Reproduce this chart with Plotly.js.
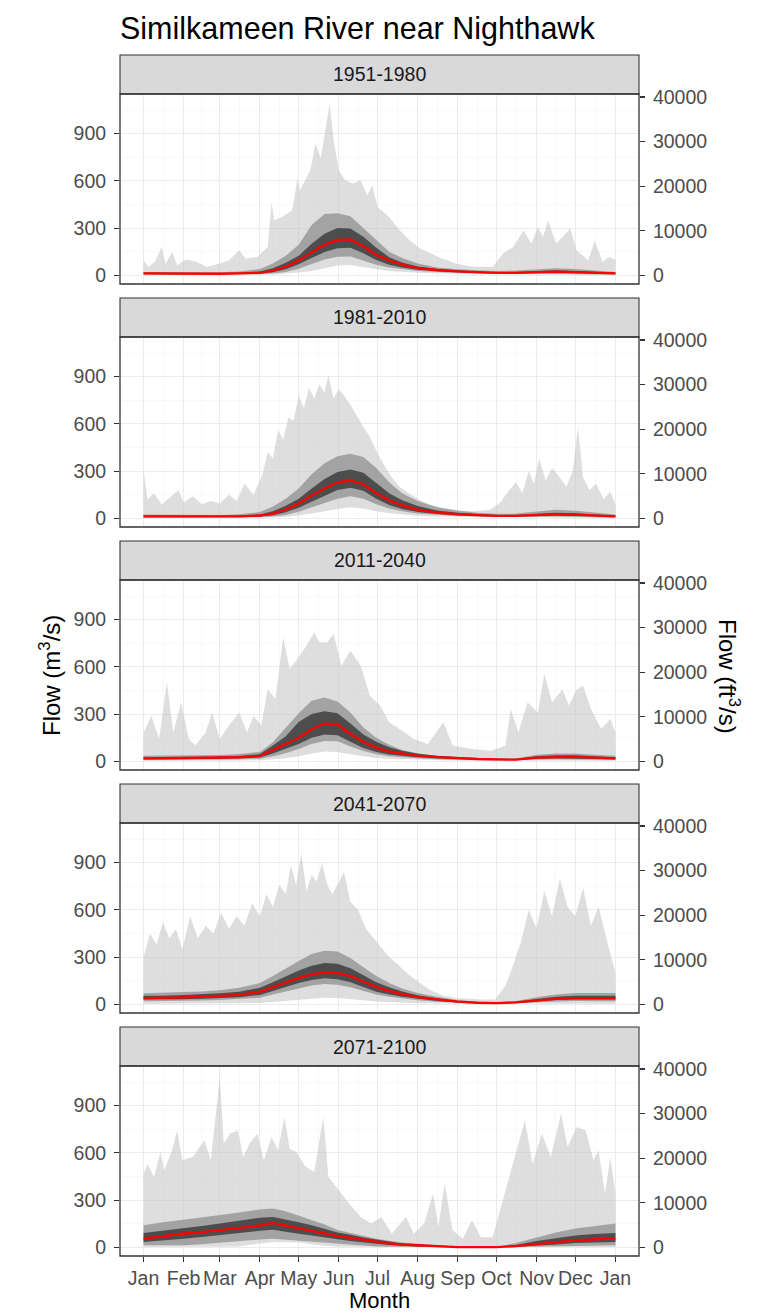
<!DOCTYPE html>
<html><head><meta charset="utf-8">
<script src="https://cdn.plot.ly/plotly-3.0.1.min.js"></script>
<style>html,body{margin:0;padding:0;background:#fff}#chart{width:764px;height:1315px}</style>
</head><body><div id="chart"></div>
<script>
// ---------------- DATA ----------------
const periods = ['1951-1980', '1981-2010', '2011-2040', '2041-2070', '2071-2100'];
const monthStarts = [0, 31, 59, 90, 120, 151, 181, 212, 243, 273, 304, 334, 365];
const monthLabels = ['Jan','Feb','Mar','Apr','May','Jun','Jul','Aug','Sep','Oct','Nov','Dec','Jan'];
const yTicksM3 = [0, 300, 600, 900];
const yMinorM3 = [150, 450, 750, 1050];
const yTicksFt3 = [0, 10000, 20000, 30000, 40000];
const FT3_PER_M3 = 35.3147;

// day-of-year sample points for the quantile bands
const qDays = [0,15,31,45,59,74,90,100,110,120,130,140,150,160,170,180,190,200,212,227,243,258,273,288,304,319,334,349,365];

// 1951-1980
const min_1 = [2,2,2,2,2,3,4,6,10,18,28,45,62,65,52,38,28,22,16,11,8,6,5,5,5,5,4,3,2];
const p10_1 = [6,5,5,5,5,6,8,12,22,42,72,100,118,120,95,68,50,40,28,20,15,11,9,9,10,11,10,8,6];
const p25_1 = [9,8,7,7,7,9,12,20,38,70,110,148,172,175,140,98,68,50,36,26,20,15,12,12,15,17,16,12,9];
const med_1 = [12,11,10,10,10,12,16,30,55,95,145,195,225,228,185,130,95,68,48,34,25,20,16,16,20,23,21,16,12];
const p75_1 = [16,15,13,13,13,16,24,45,80,125,200,265,300,298,245,175,115,82,56,40,31,25,20,21,27,32,28,21,16];
const p90_1 = [22,20,18,18,19,24,40,75,125,195,320,390,395,375,300,225,150,110,76,50,38,32,28,30,40,45,40,30,22];
const maxDays_1 = [0,4,9,14,17,22,26,33,41,49,58,66,74,79,88,96,99,101,107,115,119,121,129,133,137,140,144,147,151,156,162,168,173,177,181,190,198,206,214,228,242,256,270,278,286,294,300,305,309,313,319,324,330,335,344,349,355,360,365];
const max_1 = [95,53,90,180,74,148,64,100,85,53,74,95,159,106,117,180,466,350,371,413,614,540,667,837,742,900,1091,858,667,604,583,604,508,572,434,371,286,222,170,117,74,53,53,138,180,286,201,307,244,350,201,244,297,159,95,222,85,117,100];

// 1981-2010
const min_2 = [2,2,2,2,2,3,4,6,10,18,30,45,60,70,62,45,32,24,17,12,8,6,5,5,5,5,4,3,2];
const p10_2 = [6,5,5,5,5,6,8,12,22,42,70,98,125,140,125,90,62,45,30,21,15,11,9,9,10,12,11,8,6];
const p25_2 = [9,8,8,8,8,9,12,20,38,68,105,145,180,195,175,125,85,60,40,27,20,15,12,12,15,19,17,12,9];
const med_2 = [13,12,11,11,11,13,18,30,55,95,145,190,228,242,215,160,115,82,55,36,26,20,16,16,20,26,24,17,13];
const p75_2 = [17,16,15,15,15,17,25,45,80,125,190,250,295,310,290,225,160,115,78,50,35,27,21,21,27,35,32,23,17];
const p90_2 = [25,23,21,21,22,26,40,75,125,190,280,350,395,410,390,320,230,160,110,70,48,36,29,30,42,55,48,35,25];
const maxDays_2 = [0,3,8,14,20,27,31,38,45,52,59,66,72,78,85,92,96,100,104,108,112,116,120,124,128,132,136,140,143,147,151,155,160,165,170,175,180,186,192,198,205,213,222,232,244,256,268,276,282,288,293,298,302,306,311,316,322,327,332,336,340,345,350,356,361,365];
const max_2 = [300,120,160,90,130,180,100,140,90,110,95,150,110,220,150,280,420,380,560,500,640,620,780,700,830,760,850,800,910,760,820,780,720,650,580,520,430,340,260,200,160,120,85,65,50,45,55,100,170,230,160,300,220,380,240,320,260,200,300,580,260,180,220,120,170,90];

// 2011-2040
const min_3 = [3,3,3,3,4,5,7,12,20,32,50,62,60,45,32,22,16,12,9,7,5,4,3,3,5,6,6,5,3];
const p10_3 = [9,9,9,10,11,13,17,32,52,78,110,130,128,95,65,45,32,26,19,14,10,8,6,6,11,14,14,12,9];
const p25_3 = [14,14,14,15,16,19,25,50,78,110,150,170,165,125,85,60,43,35,26,19,14,11,9,8,16,20,20,17,14];
const med_3 = [19,20,20,21,22,26,34,72,107,150,204,240,235,174,125,87,62,50,36,27,20,15,12,11,24,28,28,24,19];
const p75_3 = [25,26,26,27,29,34,46,100,160,250,300,318,305,240,170,125,89,68,48,35,26,20,16,15,32,38,38,32,25];
const p90_3 = [35,36,36,38,40,46,60,121,215,305,385,405,380,310,215,150,105,72,52,34,26,21,18,18,42,50,50,42,35];
const maxDays_3 = [0,6,12,18,23,29,35,40,48,53,59,66,74,80,85,91,96,102,108,113,119,126,132,136,142,147,153,160,168,175,183,190,198,209,220,232,239,254,269,280,284,290,297,305,310,316,324,329,335,340,346,354,361,365];
const max_3 = [184,290,142,502,184,375,142,100,184,311,142,227,311,184,290,227,460,396,788,587,650,735,820,756,756,809,608,703,608,417,354,248,205,142,110,248,100,78,68,100,333,184,375,311,555,375,457,354,457,481,333,205,269,184];

// 2041-2070
const min_4 = [4,4,5,5,6,7,9,14,20,28,36,42,40,34,26,18,14,10,7,5,3,2,2,2,3,4,4,4,4];
const p10_4 = [20,20,22,24,27,32,42,62,82,102,120,130,125,108,85,62,48,37,26,16,8,5,3,5,12,18,21,21,20];
const p25_4 = [30,30,33,35,39,45,60,85,110,135,155,165,160,140,110,80,62,48,34,22,12,7,5,8,18,27,31,31,30];
const med_4 = [40,40,44,47,52,60,80,110,140,168,190,203,200,180,145,110,85,65,46,30,17,10,8,12,25,35,40,41,40];
const p75_4 = [55,55,60,64,70,80,105,140,180,215,245,262,258,230,185,140,108,82,58,38,22,13,10,16,34,48,55,56,55];
const p90_4 = [70,72,78,82,90,105,135,180,230,275,320,340,335,295,235,180,135,100,72,48,28,17,13,22,45,62,72,74,72];
const maxDays_4 = [0,5,10,15,20,25,30,36,42,48,54,60,66,72,78,84,90,95,100,105,110,114,118,122,126,130,134,138,142,146,150,155,160,166,172,178,184,190,197,205,213,222,232,242,252,262,272,280,286,292,298,304,310,316,322,328,334,340,346,352,358,365];
const max_4 = [300,450,380,520,420,480,350,560,420,500,450,580,480,560,500,640,560,700,620,760,700,880,760,960,720,820,780,900,760,700,760,840,650,600,480,420,360,300,250,190,140,90,55,40,35,30,30,120,250,400,600,480,720,560,800,620,560,740,500,620,420,200];

// 2071-2100
const min_5 = [2,2,2,3,4,5,25,32,33,30,20,10,6,4,3,2,2,1,1,1,1,0,0,1,1,1,2,2,2];
const p10_5 = [13,13,13,20,28,38,50,55,50,44,38,30,23,18,12,6,4,3,2,2,2,1,1,2,3,4,6,10,13];
const p25_5 = [34,45,55,65,76,90,105,112,100,87,75,62,52,40,30,23,15,10,6,3,1,0,0,3,10,18,28,31,34];
const med_5 = [55,70,88,97,108,123,140,155,138,120,103,88,72,60,48,35,25,18,13,6,2,1,1,8,22,33,44,50,55];
const p75_5 = [91,105,120,135,151,170,188,193,178,160,140,118,95,80,62,50,36,25,19,9,4,2,2,15,40,58,76,85,91];
const p90_5 = [140,160,176,190,203,222,240,246,230,203,175,145,110,92,75,55,42,30,23,12,3,2,2,28,65,95,119,135,151];
const maxDays_5 = [0,3,8,13,16,22,26,30,38,47,52,59,62,67,73,77,82,88,93,99,104,109,113,118,125,132,139,143,151,159,168,176,184,192,203,209,217,224,228,233,239,247,254,261,270,278,283,289,295,301,308,315,323,328,335,342,348,352,357,361,365];
const max_5 = [468,528,447,606,489,617,744,553,574,680,553,1083,659,723,744,574,659,723,553,701,617,828,627,606,515,479,828,447,362,278,193,151,193,87,193,87,151,341,130,405,108,55,172,64,64,299,447,617,807,528,723,574,850,638,765,744,553,617,341,574,341];

// ---------------- CHART ----------------
const panels = [
  {min:min_1,p10:p10_1,p25:p25_1,med:med_1,p75:p75_1,p90:p90_1,maxDays:maxDays_1,max:max_1},
  {min:min_2,p10:p10_2,p25:p25_2,med:med_2,p75:p75_2,p90:p90_2,maxDays:maxDays_2,max:max_2},
  {min:min_3,p10:p10_3,p25:p25_3,med:med_3,p75:p75_3,p90:p90_3,maxDays:maxDays_3,max:max_3},
  {min:min_4,p10:p10_4,p25:p25_4,med:med_4,p75:p75_4,p90:p90_4,maxDays:maxDays_4,max:max_4},
  {min:min_5,p10:p10_5,p25:p25_5,med:med_5,p75:p75_5,p90:p90_5,maxDays:maxDays_5,max:max_5}
];

const FONT = '"Liberation Sans", Arial, Helvetica, sans-serif';
const TICKFONT = {family: FONT, size: 19.5, color: '#4d4d4d'};
const W = 764, H = 1315, ML = 120, MR = 125, MT = 55, MB = 59;
const AREA_H = H - MT - MB, AREA_W = W - ML - MR;
const STEP = 243, STRIP_H = 39, PANEL_H = 190;
const py = px => 1 - (px - MT) / AREA_H;
const px2x = px => (px - ML) / AREA_W;

const xPad = 0.05 * 365;
const xRange = [-xPad, 365 + xPad];
const yRange = [-55, 1152];
const monthMids = monthStarts.slice(0, -1).map((d, i) => (d + monthStarts[i + 1]) / 2);
const rev = a => a.slice().reverse();

const traces = [];
const layout = {
  width: W, height: H,
  margin: {l: ML, r: MR, t: MT, b: MB},
  paper_bgcolor: '#ffffff', plot_bgcolor: '#ffffff',
  showlegend: false,
  font: {family: FONT, size: 19.5, color: '#4d4d4d'},
  title: {text: 'Similkameen River near Nighthawk', xref: 'container', yref: 'container',
          x: ML / W, xanchor: 'left', y: 1 - 28 / H, yanchor: 'middle',
          font: {family: FONT, size: 30.5, color: '#000000'}},
  shapes: [], annotations: []
};

panels.forEach((p, i) => {
  const k = i + 1;
  const xa = k === 1 ? 'x' : 'x' + k;
  const ya = k === 1 ? 'y' : 'y' + k;
  const yr = 'y' + (k + 5);
  const stripTop = MT + STEP * i;
  const plotTop = stripTop + STRIP_H;
  const plotBot = plotTop + PANEL_H;
  const isBottom = i === panels.length - 1;

  traces.push({type: 'scatter', mode: 'lines', xaxis: xa, yaxis: ya, hoverinfo: 'skip',
    x: p.maxDays.concat(rev(qDays)), y: p.max.concat(rev(p.min)),
    fill: 'toself', fillcolor: 'rgba(195,195,195,0.55)', line: {width: 0}});
  traces.push({type: 'scatter', mode: 'lines', xaxis: xa, yaxis: ya, hoverinfo: 'skip',
    x: qDays.concat(rev(qDays)), y: p.p90.concat(rev(p.p10)),
    fill: 'toself', fillcolor: '#a3a3a3', line: {width: 0}});
  traces.push({type: 'scatter', mode: 'lines', xaxis: xa, yaxis: ya, hoverinfo: 'skip',
    x: qDays.concat(rev(qDays)), y: p.p75.concat(rev(p.p25)),
    fill: 'toself', fillcolor: '#4d4d4d', line: {width: 0}});
  traces.push({type: 'scatter', mode: 'lines', xaxis: xa, yaxis: ya, hoverinfo: 'skip',
    x: qDays, y: p.med, line: {color: '#ff0000', width: 2.3}});
  // invisible trace so the secondary (ft3/s) axis is drawn
  traces.push({type: 'scatter', mode: 'markers', xaxis: xa, yaxis: yr, hoverinfo: 'skip',
    x: [qDays[0]], y: [0], marker: {opacity: 0}});

  layout['xaxis' + (k === 1 ? '' : k)] = {
    domain: [0, 1], anchor: ya, range: xRange,
    tickmode: 'array', tickvals: monthStarts, ticktext: monthLabels,
    showticklabels: isBottom, ticks: isBottom ? 'outside' : '', ticklen: 5, tickwidth: 1.1, tickcolor: '#333333',
    ticklabelstandoff: 0,
    showgrid: true, gridcolor: '#ebebeb', gridwidth: 1.1,
    minor: {tickmode: 'array', tickvals: monthMids, showgrid: true, gridcolor: '#f4f4f4', gridwidth: 0.6, ticks: ''},
    zeroline: false, showline: false, tickfont: TICKFONT, fixedrange: true
  };
  layout['yaxis' + (k === 1 ? '' : k)] = {
    domain: [py(plotBot), py(plotTop)], anchor: xa, range: yRange,
    tickmode: 'array', tickvals: yTicksM3, ticks: 'outside', ticklen: 5, tickwidth: 1.1, tickcolor: '#333333',
    ticklabelstandoff: 4,
    showgrid: true, gridcolor: '#ebebeb', gridwidth: 1.1,
    minor: {tickmode: 'array', tickvals: yMinorM3, showgrid: true, gridcolor: '#f4f4f4', gridwidth: 0.6, ticks: ''},
    zeroline: false, showline: false, tickfont: TICKFONT, fixedrange: true
  };
  layout['yaxis' + (k + 5)] = {
    overlaying: ya, side: 'right', anchor: xa,
    range: yRange.map(v => v * FT3_PER_M3),
    tickmode: 'array', tickvals: yTicksFt3, ticktext: yTicksFt3.map(String),
    ticks: 'outside', ticklen: 5, tickwidth: 1.1, tickcolor: '#333333', ticklabelstandoff: 4,
    showgrid: false, zeroline: false, showline: false, tickfont: TICKFONT, fixedrange: true
  };

  // strip
  layout.shapes.push({type: 'rect', xref: 'paper', yref: 'paper', x0: 0, x1: 1,
    y0: py(plotTop), y1: py(stripTop), fillcolor: '#d9d9d9', line: {color: '#333333', width: 1.1}, layer: 'above'});
  // panel border
  layout.shapes.push({type: 'rect', xref: 'paper', yref: 'paper', x0: 0, x1: 1,
    y0: py(plotBot), y1: py(plotTop), fillcolor: 'rgba(0,0,0,0)', line: {color: '#333333', width: 1.3}, layer: 'above'});
  layout.annotations.push({text: periods[i], xref: 'paper', yref: 'paper', x: 0.5, y: py(stripTop + STRIP_H / 2),
    xanchor: 'center', yanchor: 'middle', showarrow: false, font: {family: FONT, size: 19.5, color: '#1a1a1a'}});
});

layout.annotations.push({text: 'Flow (m<sup>3</sup>/s)', xref: 'paper', yref: 'paper',
  x: px2x(50), y: py(676), xanchor: 'center', yanchor: 'middle', textangle: -90, showarrow: false,
  font: {family: FONT, size: 24, color: '#000000'}});
layout.annotations.push({text: 'Flow (ft<sup>3</sup>/s)', xref: 'paper', yref: 'paper',
  x: px2x(729), y: py(676), xanchor: 'center', yanchor: 'middle', textangle: 90, showarrow: false,
  font: {family: FONT, size: 24, color: '#000000'}});
layout.annotations.push({text: 'Month', xref: 'paper', yref: 'paper',
  x: 0.5, y: py(1314.5), xanchor: 'center', yanchor: 'bottom', showarrow: false,
  font: {family: FONT, size: 22, color: '#000000'}});

Plotly.newPlot('chart', traces, layout, {displayModeBar: false, staticPlot: true});
</script>
</body></html>
